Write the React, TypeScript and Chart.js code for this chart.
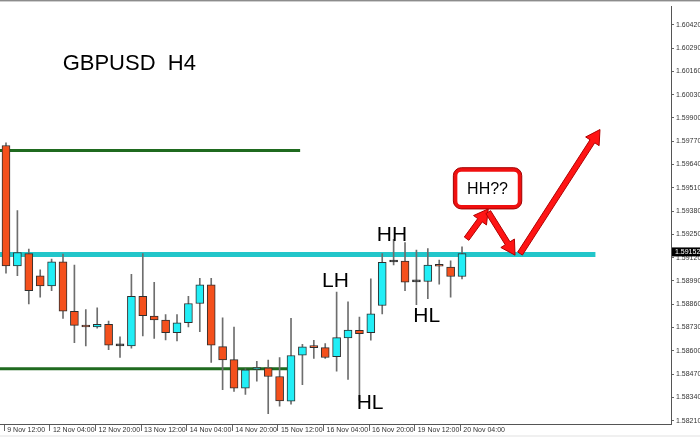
import React, { useEffect, useRef } from "react";
import { Chart, registerables } from "chart.js";
Chart.register(...registerables);

// ---- Candle data (GBPUSD H4) ----
const opens = [1.59746, 1.59074, 1.59143, 1.59019, 1.58963, 1.59097, 1.58821, 1.58742, 1.58733, 1.58748,
  1.58630, 1.58628, 1.58904, 1.58794, 1.58772, 1.58701, 1.58757, 1.58864, 1.58969, 1.58624,
  1.58551, 1.58392, 1.58496, 1.58505, 1.58457, 1.58319, 1.58576, 1.58628, 1.58618, 1.58567,
  1.58672, 1.58715, 1.58701, 1.58853, 1.59096, 1.59101, 1.58987, 1.58987, 1.59079, 1.59068, 1.59015];
const highs = [1.59761, 1.59383, 1.59168, 1.59052, 1.59112, 1.59140, 1.59079, 1.58831, 1.58840, 1.58766,
  1.58678, 1.59027, 1.59143, 1.58982, 1.58803, 1.58803, 1.58904, 1.59005, 1.59005, 1.58784,
  1.58733, 1.58499, 1.58541, 1.58549, 1.58563, 1.58781, 1.58637, 1.58659, 1.58641, 1.58928,
  1.58873, 1.58788, 1.59002, 1.59143, 1.59223, 1.59204, 1.59162, 1.59171, 1.59107, 1.59103, 1.59180];
const lows = [1.59033, 1.59020, 1.58862, 1.58899, 1.58936, 1.58781, 1.58646, 1.58628, 1.58726, 1.58606,
  1.58563, 1.58615, 1.58683, 1.58670, 1.58661, 1.58656, 1.58733, 1.58707, 1.58536, 1.58383,
  1.58374, 1.58357, 1.58431, 1.58250, 1.58291, 1.58302, 1.58411, 1.58558, 1.58558, 1.58486,
  1.58440, 1.58324, 1.58659, 1.58806, 1.59079, 1.58936, 1.58858, 1.58891, 1.58972, 1.58900, 1.59002];
const closes = [1.59074, 1.59149, 1.58936, 1.58963, 1.59097, 1.58821, 1.58742, 1.58733, 1.58748, 1.58632,
  1.58628, 1.58904, 1.58797, 1.58772, 1.58701, 1.58757, 1.58864, 1.58969, 1.58632, 1.58549,
  1.58392, 1.58494, 1.58503, 1.58457, 1.58320, 1.58574, 1.58622, 1.58618, 1.58563, 1.58674,
  1.58716, 1.58696, 1.58806, 1.59094, 1.59100, 1.58983, 1.58985, 1.59079, 1.59072, 1.59015, 1.59143];

// ---- Axis labels ----
const xTickLabels = ["9 Nov 12:00", "12 Nov 04:00", "12 Nov 20:00", "13 Nov 12:00", "14 Nov 04:00",
  "14 Nov 20:00", "15 Nov 12:00", "16 Nov 04:00", "16 Nov 20:00", "19 Nov 12:00", "20 Nov 04:00"];
const xTickIndex = [0, 4, 8, 12, 16, 20, 24, 28, 32, 36, 40];
const yTickLabels = ["1.58210", "1.58340", "1.58470", "1.58600", "1.58730", "1.58860", "1.58990",
  "1.59120", "1.59250", "1.59380", "1.59510", "1.59640", "1.59770", "1.59900", "1.60030",
  "1.60160", "1.60290", "1.60420"];
const bidPrice = 1.59152;

// ---- Drawn levels ----
const resistanceLevel = 1.59137;
const resistanceEnd = 51.7;
const upperGreenLevel = 1.59718;
const upperGreenEnd = 25.8;
const lowerGreenLevel = 1.585;
const lowerGreenEnd = 24.7;

// ---- Annotations ----
const titleText = "GBPUSD  H4";
const titlePos = [4.97, 1.60169];
const noteTexts = ["LH", "HH", "HL", "HL"];
const noteX = [27.72, 32.52, 30.76, 35.73];
const notePrice = [1.58954, 1.59211, 1.58277, 1.58762];
const boxText = "HH??";
const boxX = [39.24, 45.24];
const boxPrice = [1.59622, 1.59392];
const arrowStarts = [[40.4, 1.59226], [42.3, 1.59374], [45.09, 1.59143]];
const arrowTips = [[42.3, 1.59392], [44.65, 1.59134], [52.1, 1.59835]];

const X_MIN = -0.526;
const X_MAX = 58.33;
const Y_MIN = 1.581918;
const Y_MAX = 1.605233;

const BULL = "#22EEF6";
const BEAR = "#F4501C";
const AXIS_FONT = { family: "Liberation Sans", size: 7 };

function drawArrow(ctx: CanvasRenderingContext2D, x1: number, y1: number, x2: number, y2: number) {
  const ang = Math.atan2(y2 - y1, x2 - x1);
  const ux = Math.cos(ang), uy = Math.sin(ang);
  const px = -uy, py = ux;
  const headLen = 14, headW = 8, shaftW = 2.8;
  const bx = x2 - ux * headLen, by = y2 - uy * headLen;
  ctx.beginPath();
  ctx.moveTo(x1 + px * shaftW, y1 + py * shaftW);
  ctx.lineTo(bx + px * shaftW, by + py * shaftW);
  ctx.lineTo(bx + px * headW, by + py * headW);
  ctx.lineTo(x2, y2);
  ctx.lineTo(bx - px * headW, by - py * headW);
  ctx.lineTo(bx - px * shaftW, by - py * shaftW);
  ctx.lineTo(x1 - px * shaftW, y1 - py * shaftW);
  ctx.closePath();
  ctx.fillStyle = "#FF1414";
  ctx.fill();
  ctx.strokeStyle = "#B00000";
  ctx.lineWidth = 1;
  ctx.stroke();
}

const annotationPlugin = {
  id: "mt4Annotations",
  beforeDraw(chart: any) {
    const ctx = chart.ctx as CanvasRenderingContext2D;
    ctx.save();
    ctx.fillStyle = "#ffffff";
    ctx.fillRect(0, 0, chart.width, chart.height);
    ctx.fillStyle = "#f0f0f0";
    ctx.fillRect(0, 435, chart.width, chart.height - 435);
    ctx.restore();
  },
  afterDraw(chart: any) {
    const ctx = chart.ctx as CanvasRenderingContext2D;
    const xs = chart.scales.x, ys = chart.scales.y;
    const X = (v: number) => xs.getPixelForValue(v);
    const Y = (v: number) => ys.getPixelForValue(v);
    ctx.save();
    // top frame
    ctx.fillStyle = "#8c8c8c";
    ctx.fillRect(0, 0, chart.width, 1);
    ctx.fillStyle = "#cfcfcf";
    ctx.fillRect(0, 1, chart.width, 1);

    // title
    ctx.fillStyle = "#000";
    ctx.textBaseline = "alphabetic";
    ctx.textAlign = "left";
    ctx.font = "22px 'Liberation Sans', Arial, sans-serif";
    ctx.fillText(titleText, X(titlePos[0]), Y(titlePos[1]));

    // notes
    ctx.font = "21px 'Liberation Sans', Arial, sans-serif";
    noteTexts.forEach((t, i) => ctx.fillText(t, X(noteX[i]), Y(notePrice[i])));

    // arrows
    arrowStarts.forEach((s, i) => {
      drawArrow(ctx, X(s[0]), Y(s[1]), X(arrowTips[i][0]), Y(arrowTips[i][1]));
    });

    // box
    const bx0 = X(boxX[0]), bx1 = X(boxX[1]);
    const by0 = Y(boxPrice[0]), by1 = Y(boxPrice[1]);
    ctx.beginPath();
    (ctx as any).roundRect(bx0 + 2, by0 + 2, bx1 - bx0 - 4, by1 - by0 - 4, 6);
    ctx.fillStyle = "#ffffff";
    ctx.fill();
    ctx.lineWidth = 4;
    ctx.strokeStyle = "#F01010";
    ctx.stroke();
    ctx.lineWidth = 1;
    ctx.strokeStyle = "#A00000";
    ctx.beginPath();
    (ctx as any).roundRect(bx0, by0, bx1 - bx0, by1 - by0, 8);
    ctx.stroke();
    ctx.fillStyle = "#000";
    ctx.font = "16px 'Liberation Sans', Arial, sans-serif";
    ctx.textAlign = "center";
    ctx.textBaseline = "middle";
    ctx.fillText(boxText, (bx0 + bx1) / 2, (by0 + by1) / 2 + 1);

    // bid price label
    const py = Y(bidPrice);
    const ax = chart.chartArea.right;
    ctx.fillStyle = "#000";
    ctx.fillRect(ax + 1, py - 4.5, chart.width - ax - 1, 9);
    ctx.fillStyle = "#fff";
    ctx.font = "7px 'Liberation Sans', Arial, sans-serif";
    ctx.textAlign = "left";
    ctx.textBaseline = "middle";
    ctx.fillText(bidPrice.toFixed(5), ax + 4, py);
    ctx.restore();
  },
};

export default function App() {
  const canvasRef = useRef<HTMLCanvasElement | null>(null);

  useEffect(() => {
    document.body.style.margin = "0";
    const canvas = canvasRef.current;
    if (!canvas) return;
    const idx = opens.map((_, i) => i);
    const bodyColors = idx.map((i) =>
      Math.abs(closes[i] - opens[i]) < 0.00005 ? "#333333" : closes[i] >= opens[i] ? BULL : BEAR
    );
    const chart = new Chart(canvas, {
      type: "bar",
      data: {
        datasets: [
          {
            type: "bar",
            label: "body",
            data: idx.map((i) => ({ x: i, y: [opens[i], closes[i]] })) as any,
            backgroundColor: bodyColors,
            borderColor: "#2e2e2e",
            borderWidth: 1,
            borderSkipped: false,
            barThickness: 8,
            minBarLength: 2,
            grouped: false,
            order: 0,
          } as any,
          {
            type: "bar",
            label: "wick",
            data: idx.map((i) => ({ x: i, y: [lows[i], highs[i]] })) as any,
            backgroundColor: "#6e6e6e",
            borderWidth: 0,
            barThickness: 1,
            grouped: false,
            order: 1,
          } as any,
          {
            type: "line",
            label: "resistance",
            data: [{ x: X_MIN, y: resistanceLevel }, { x: resistanceEnd, y: resistanceLevel }],
            borderColor: "#22C6CA",
            borderWidth: 5,
            pointRadius: 0,
            borderCapStyle: "butt",
            order: 2,
          } as any,
          {
            type: "line",
            label: "upperGreen",
            data: [{ x: X_MIN, y: upperGreenLevel }, { x: upperGreenEnd, y: upperGreenLevel }],
            borderColor: "#1F6A1F",
            borderWidth: 3,
            pointRadius: 0,
            order: 2,
          } as any,
          {
            type: "line",
            label: "lowerGreen",
            data: [{ x: X_MIN, y: lowerGreenLevel }, { x: lowerGreenEnd, y: lowerGreenLevel }],
            borderColor: "#1F6A1F",
            borderWidth: 3,
            pointRadius: 0,
            order: 2,
          } as any,
        ],
      },
      options: {
        responsive: false,
        animation: false,
        devicePixelRatio: 1,
        layout: { padding: { top: 2, left: 0, right: 0, bottom: 0 } },
        plugins: { legend: { display: false }, tooltip: { enabled: false }, title: { display: false } },
        scales: {
          x: {
            type: "linear",
            min: X_MIN,
            max: X_MAX,
            offset: false,
            afterBuildTicks: (s: any) => {
              s.ticks = xTickIndex.map((v) => ({ value: v - 0.15 }));
            },
            afterFit: (s: any) => {
              s.height = 13;
            },
            grid: { drawOnChartArea: false, drawTicks: true, tickLength: 7, color: "#666", offset: false },
            border: { display: true, color: "#555", width: 1 },
            ticks: {
              autoSkip: false,
              maxRotation: 0,
              minRotation: 0,
              align: "start",
              labelOffset: 3,
              padding: -5,
              color: "#333",
              font: AXIS_FONT,
              callback: (_v: any, i: number) => xTickLabels[i],
            },
          } as any,
          y: {
            type: "linear",
            position: "right",
            min: Y_MIN,
            max: Y_MAX,
            afterBuildTicks: (s: any) => {
              s.ticks = yTickLabels.map((t) => ({ value: parseFloat(t) }));
            },
            afterFit: (s: any) => {
              s.width = 29;
            },
            grid: { drawOnChartArea: false, drawTicks: true, tickLength: 3, color: "#666" },
            border: { display: true, color: "#555", width: 1 },
            ticks: {
              autoSkip: false,
              padding: 2,
              color: "#333",
              font: AXIS_FONT,
              callback: (_v: any, i: number) => yTickLabels[i],
            },
          } as any,
        },
      },
      plugins: [annotationPlugin],
    });
    return () => chart.destroy();
  }, []);

  return (
    <div style={{ width: 700, height: 437 }}>
      <canvas ref={canvasRef} width={700} height={437} style={{ display: "block" }} />
    </div>
  );
}
